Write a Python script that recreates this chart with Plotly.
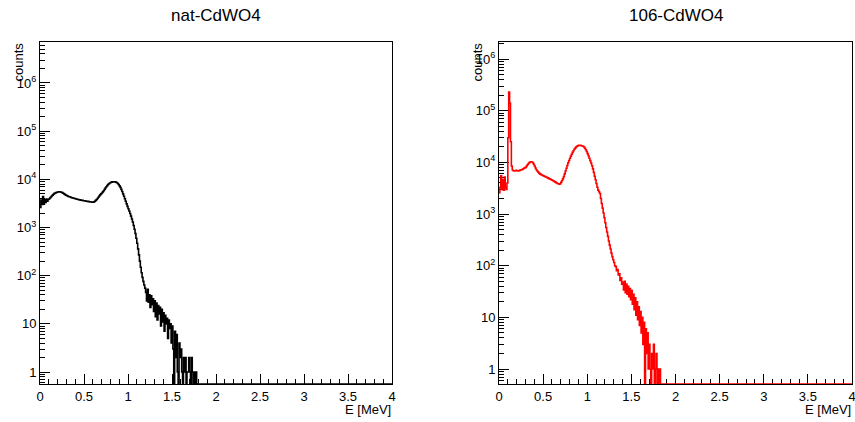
import numpy as np
import plotly.graph_objects as go

# ---------------- data (counts per 0.01 MeV bin, starting at 0 MeV) ----------------
bin_width = 0.01
e_min, e_max = 0.0, 4.0

nat_counts = [
    2600, 3700, 3000, 4400, 3100, 3800, 3300, 3900, 3500, 3800,
    3900, 4100, 4300, 4500, 4700, 4900, 5100, 5200, 5300, 5400,
    5450, 5500, 5500, 5450, 5400, 5300, 5150, 5000, 4850, 4700,
    4600, 4500, 4400, 4350, 4300, 4200, 4150, 4100, 4050, 4000,
    3950, 3900, 3850, 3800, 3780, 3750, 3700, 3680, 3650, 3600,
    3580, 3550, 3520, 3500, 3480, 3450, 3420, 3400, 3380, 3350,
    3350, 3400, 3500, 3650, 3800, 4000, 4250, 4500, 4750, 5000,
    5200, 5500, 5800, 6200, 6600, 7000, 7400, 7800, 8100, 8400,
    8600, 8750, 8850, 8900, 8900, 8850, 8750, 8500, 8200, 7800,
    7300, 6800, 6200, 5600, 5000, 4450, 3950, 3500, 3100, 2750,
    2450, 2200, 1950, 1720, 1500, 1300, 1100, 920, 750, 600,
    470, 360, 270, 200, 150, 115, 92, 76, 64, 55,
    45, 30, 52, 28, 40, 22, 38, 25, 33, 18,
    30, 14, 27, 12, 24, 16, 22, 9, 20, 11,
    17, 7, 15, 10, 13, 5, 12, 8, 10, 4,
    9, 3, 0, 7, 2, 6, 1, 0, 4, 2,
    3, 1, 0, 2, 1, 2, 0, 1, 1, 2,
    1, 0, 2, 1, 0, 1, 0, 1, 0, 0,
]

cd106_counts = [
    2600, 3300, 5500, 3000, 4600, 2900, 5200, 3300, 3000, 4000,
    30000, 230000, 140000, 25000, 8500, 7100, 6900, 6800, 6900, 7000,
    6900, 6800, 6900, 7000, 7100, 7200, 7300, 7500, 7700, 7900,
    8000, 8500, 9000, 9500, 9900, 10200, 10300, 10200, 9800, 9200,
    8500, 7800, 7200, 6800, 6500, 6200, 6000, 5850, 5700, 5600,
    5500, 5400, 5300, 5200, 5100, 5000, 4900, 4800, 4700, 4600,
    4500, 4400, 4300, 4200, 4100, 4000, 3900, 3850, 3800, 3850,
    4100, 4400, 4800, 5300, 6000, 6800, 7700, 8700, 9800, 10900,
    12000, 13200, 14400, 15600, 16800, 17900, 18900, 19800, 20500, 21000,
    21300, 21400, 21300, 21000, 20800, 20500, 19800, 18800, 17600, 16200,
    14800, 13400, 12000, 10800, 9700, 8600, 7500, 6400, 5400, 4600,
    3900, 3300, 2900, 2700, 2500, 2000, 1600, 1300, 1050, 850,
    680, 550, 450, 370, 300, 250, 210, 175, 150, 130,
    115, 100, 96, 80, 84, 66, 70, 52, 58, 44,
    48, 34, 50, 30, 44, 28, 40, 25, 36, 22,
    33, 18, 28, 14, 24, 11, 20, 9, 16, 7,
    13, 5, 10, 3, 8, 0, 6, 2, 5, 1,
    3, 1, 0, 2, 1, 3, 0, 1, 2, 0,
    1, 0, 1, 0,
]

panel_titles = ["nat-CdWO4", "106-CdWO4"]
line_colors = ["black", "red"]
y_ranges_log = [(-0.249, 6.851), (-0.29, 6.33)]
x_tick_vals = [0, 0.5, 1, 1.5, 2, 2.5, 3, 3.5, 4]
y_tick_vals = [1, 10, 100, 1e3, 1e4, 1e5, 1e6]
y_tick_text = ["1", "10", "10<sup>2</sup>", "10<sup>3</sup>", "10<sup>4</sup>",
               "10<sup>5</sup>", "10<sup>6</sup>"]

# ---------------- build ----------------
n_bins = int(round((e_max - e_min) / bin_width))
edges = np.round(e_min + np.arange(n_bins + 1) * bin_width, 4)

W, H = 855, 422
domains_px = [(40, 392), (499, 852)]
top_px, bottom_px = 42, 384

fig = go.Figure()
font_family = "Liberation Sans, Arial, sans-serif"
minor_y = [k * 10.0 ** d for d in range(-1, 7) for k in range(2, 10)]

annotations = []
for i, (counts, color) in enumerate(zip([nat_counts, cd106_counts], line_colors)):
    c = np.zeros(n_bins)
    c[:len(counts)] = counts
    floor = 10 ** y_ranges_log[i][0]
    yv = np.where(c > 0, c, floor)
    yv = np.append(yv, yv[-1])
    sfx = "" if i == 0 else "2"
    fig.add_trace(go.Scatter(
        x=edges, y=yv, mode="lines", line=dict(color=color, width=1.6, shape="hv"),
        xaxis="x" + sfx, yaxis="y" + sfx, showlegend=False, hoverinfo="skip"))

    d0, d1 = domains_px[i]
    xa = dict(
        domain=[d0 / W, d1 / W], range=[e_min, e_max], anchor="y" + sfx,
        showline=True, linecolor="black", linewidth=1, mirror=True,
        ticks="inside", ticklen=10, tickwidth=1, tickcolor="black",
        tickvals=x_tick_vals, showgrid=False, zeroline=False,
        tickfont=dict(size=13, color="black", family=font_family),
        ticklabeloverflow="allow",
        minor=dict(ticks="inside", ticklen=5, tickcolor="black", dtick=0.1, tick0=0, showgrid=False),
        automargin=False, layer="below traces",
    )
    ya = dict(
        domain=[0, 1], type="log", range=list(y_ranges_log[i]), anchor="x" + sfx,
        showline=True, linecolor="black", linewidth=1, mirror=True,
        ticks="inside", ticklen=10, tickwidth=1, tickcolor="black",
        tickvals=y_tick_vals, ticktext=y_tick_text, showgrid=False, zeroline=False,
        tickfont=dict(size=13, color="black", family=font_family),
        minor=dict(ticks="inside", ticklen=5, tickcolor="black", tickmode="array",
                   tickvals=minor_y, showgrid=False),
        automargin=False, layer="below traces",
    )
    fig.layout["xaxis" + sfx] = xa
    fig.layout["yaxis" + sfx] = ya

    xd = "x" + sfx + " domain"
    yd = "y" + sfx + " domain"
    annotations += [
        dict(text=panel_titles[i], xref=xd, yref=yd, x=0.5, y=1, xanchor="center",
             yanchor="middle", yshift=27, showarrow=False,
             font=dict(size=17, color="black", family=font_family)),
        dict(text="E [MeV]", xref=xd, yref=yd, x=1, y=0, xanchor="right",
             yanchor="middle", yshift=-25, xshift=1, showarrow=False,
             font=dict(size=13, color="black", family=font_family)),
        dict(text="counts", xref=xd, yref=yd, x=0, y=1, xanchor="center",
             yanchor="middle", xshift=-22, yshift=-20.5, textangle=-90, showarrow=False,
             font=dict(size=13, color="black", family=font_family)),
    ]

fig.update_layout(
    width=W, height=H, margin=dict(l=0, r=0, t=top_px, b=H - bottom_px, pad=0),
    paper_bgcolor="white", plot_bgcolor="white", annotations=annotations,
    font=dict(family=font_family, color="black"),
)

fig.write_html("out.html")
